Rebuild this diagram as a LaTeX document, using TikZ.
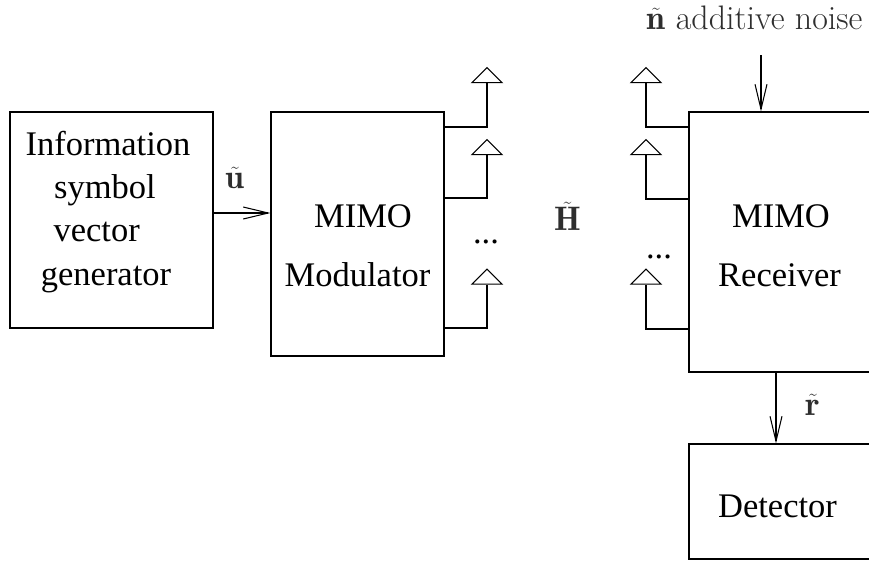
\documentclass[tikz,border=0pt]{standalone}
\usepackage{fontspec}
\usepackage{amsmath,amssymb}
\usepackage{tikz}
\usetikzlibrary{shapes.geometric,arrows.meta}
\newfontfamily\blockfont{Liberation Serif}
\tikzset{
	block/.style={draw, line width=1.05pt, inner sep=0pt},
	blocktext/.style={font=\fontsize{34.5}{40}\blockfont, inner sep=0pt, anchor=base},
	symtext/.style={font=\fontsize{34}{40}\selectfont, text=black!82, inner sep=0pt, anchor=base},
	antenna/.style={draw, line width=1.05pt, isosceles triangle, isosceles triangle stretches, shape border rotate=90, minimum width=30pt, minimum height=15pt, inner sep=0pt},
	wire/.style={line width=1.05pt},
	signal/.style={line width=1.05pt, -{Straight Barb[length=25pt,width=12pt]}}
}

\begin{document}
\begin{tikzpicture}[x=1pt, y=-1pt]
			\useasboundingbox (0, 0) rectangle (869, 560);
			\clip (0, 0) rectangle (869, 560);
			% blocks
			\begin{scope}
				\node[block, minimum width=203pt, minimum height=216pt] (infogen) at (111.5, 220) {};
				\node[block, minimum width=173pt, minimum height=244pt] (modulator) at (357.5, 234) {};
				\node[block, minimum width=200pt, minimum height=260pt] (receiver) at (789, 242) {};
				\node[block, minimum width=200pt, minimum height=115pt] (detector) at (789, 501.5) {};
			\end{scope}
			% block texts
			\node[blocktext] (infoa) at (108, 155.7) {Information};
			\node[blocktext] (infob) at (105, 198) {symbol};
			\node[blocktext] (infoc) at (96.7, 241.7) {vector};
			\node[blocktext] (infod) at (106, 285) {generator};
			\node[blocktext] (moda) at (363, 227.7) {MIMO};
			\node[blocktext] (modb) at (357.5, 286) {Modulator};
			\node[blocktext] (reca) at (781, 227.7) {MIMO};
			\node[blocktext] (recb) at (779.5, 286) {Receiver};
			\node[blocktext] (dettext) at (777.5, 517) {Detector};
			% antennas on both sides
			\foreach \name/\xa/\ya in {txa/487/76.5, txb/487/148.5, txc/487/278, rxa/646/76.5, rxb/646/148.5, rxc/646/278}
				\node[antenna] (\name) at (\xa, \ya) {};
			\coordinate (txafeed) at (444, 127);
			\coordinate (txbfeed) at (444, 198);
			\coordinate (txcfeed) at (444, 328);
			\coordinate (rxafeed) at (689, 127);
			\coordinate (rxbfeed) at (689, 199);
			\coordinate (rxcfeed) at (689, 329);
			\foreach \name in {txa, txb, txc, rxa, rxb, rxc}
				\draw[wire] (\name feed) -| (\name.south);
			% signal paths
			\coordinate (noisein) at (761, 55);
			\draw[signal] (infogen.east |- 0, 213) -- (modulator.west |- 0, 213);
			\draw[signal] (noisein) -- (noisein |- receiver.north);
			\draw[signal] (receiver.south -| 776, 0) -- (detector.north -| 776, 0);
			% symbols
			\node[symtext] (ulabel) at (235, 188.3) {$\tilde{\mathbf{u}}$};
			\node[symtext] (hlabel) at (567.5, 230.7) {$\tilde{\mathbf{H}}$};
			\node[symtext] (rlabel) at (813, 415) {$\tilde{\mathbf{r}}$};
			\node[symtext] (noiselabel) at (754.5, 29.5) {$\tilde{\mathbf{n}}$ additive noise};
			\node[blocktext] (txdots) at (486, 243) {...};
			\node[blocktext] (rxdots) at (659, 258) {...};
		\end{tikzpicture}
\end{document}
